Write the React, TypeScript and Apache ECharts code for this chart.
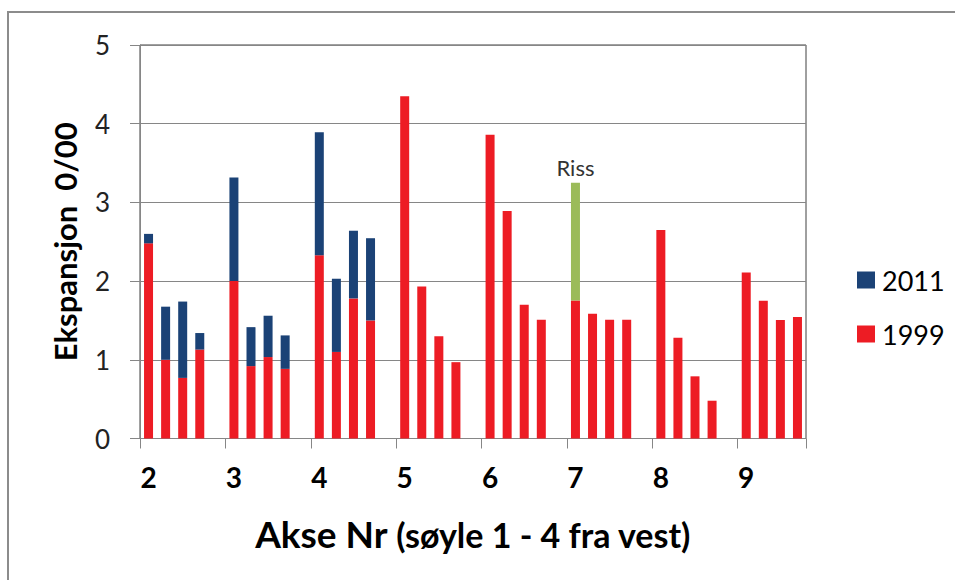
import React, { useEffect, useRef } from "react";
import * as echarts from "echarts";

// Axis numbers (x tick labels) – each axis has 4 columns (søyle 1-4 fra vest)
const axisNumbers = ["2", "3", "4", "5", "6", "7", "8", "9"];
const columnsPerAxis = 4;

// Expansion 1999 (0/00), 4 columns per axis
const expansion1999 = [
  2.48, 1.0, 0.77, 1.13,
  2.0, 0.92, 1.035, 0.885,
  2.33, 1.1, 1.78, 1.5,
  4.35, 1.93, 1.3, 0.97,
  3.86, 2.89, 1.7, 1.51,
  1.755, 1.585, 1.51, 1.51,
  2.65, 1.28, 0.79, 0.48,
  2.11, 1.75, 1.505, 1.545,
];

// Expansion 2011 (total height of the stacked bar), null where not measured
const expansion2011Total = [
  2.6, 1.675, 1.74, 1.34,
  3.315, 1.415, 1.56, 1.31,
  3.89, 2.03, 2.64, 2.545,
  null, null, null, null,
  null, null, null, null,
  null, null, null, null,
  null, null, null, null,
  null, null, null, null,
];

// Column with crack ("Riss"), total height
const rissTotal = [
  null, null, null, null,
  null, null, null, null,
  null, null, null, null,
  null, null, null, null,
  null, null, null, null,
  3.25, null, null, null,
  null, null, null, null,
  null, null, null, null,
];

const FONT = "Lato";

function withGaps<T>(values: T[], gap: T): T[] {
  const out: T[] = [];
  axisNumbers.forEach((_, g) => {
    for (let s = 0; s < columnsPerAxis; s++) out.push(values[g * columnsPerAxis + s]);
    if (g < axisNumbers.length - 1) out.push(gap);
  });
  return out;
}

const categoryNames: string[] = (() => {
  const names: string[] = [];
  axisNumbers.forEach((a) => {
    for (let s = 1; s <= columnsPerAxis; s++) names.push(`${a}-${s}`);
  });
  return withGaps(names, "");
})().map((n, i) => (n === "" ? `gap-${i}` : n));

const base1999 = withGaps<number | null>(expansion1999, null);
const delta2011 = withGaps<number | null>(
  expansion2011Total.map((t, i) => (t == null ? null : +(t - expansion1999[i]).toFixed(3))),
  null
);
const deltaRiss = withGaps<number | null>(
  rissTotal.map((t, i) => (t == null ? null : +(t - expansion1999[i]).toFixed(3))),
  null
);

const slotsPerAxis = columnsPerAxis + 1;

export default function App() {
  const ref = useRef<HTMLDivElement>(null);

  useEffect(() => {
    if (!ref.current) return;
    const chart = echarts.init(ref.current, null, { renderer: "svg" });
    const gray = "#868686";
    chart.setOption({
      animation: false,
      backgroundColor: "#ffffff",
      textStyle: { fontFamily: FONT },
      graphic: [
        {
          type: "rect",
          silent: true,
          shape: { x: 8, y: 12, width: 1200, height: 1200 },
          style: { fill: "none", stroke: "#8c8c8c", lineWidth: 2 },
        },
      ],
      legend: {
        orient: "vertical",
        left: 852,
        top: 260,
        data: ["2011", "1999"],
        icon: "rect",
        itemWidth: 18,
        itemHeight: 17,
        itemGap: 24,
        textStyle: { fontFamily: FONT, fontSize: 27, color: "#000", lineHeight: 30, padding: [0, 0, 0, 2] },
      },
      grid: {
        left: 140,
        top: 45,
        width: 666,
        height: 393.5,
        show: true,
        borderColor: "#404040",
        borderWidth: 1,
        backgroundColor: "transparent",
      },
      xAxis: {
        type: "category",
        data: categoryNames,
        boundaryGap: true,
        axisLine: { lineStyle: { color: gray, width: 1 } },
        axisTick: {
          show: true,
          length: 10,
          interval: (i: number) => i % slotsPerAxis === 0,
          lineStyle: { color: gray },
        },
        axisLabel: {
          interval: 0,
          margin: 24,
          fontFamily: FONT,
          fontSize: 28,
          fontWeight: "bold",
          color: "#000",
          formatter: (_v: string, i: number) =>
            i % slotsPerAxis === 0 ? axisNumbers[i / slotsPerAxis] : "",
        },
        splitLine: { show: false },
        name: "{a|Akse Nr}{b| (søyle 1 - 4 fra vest)}",
        nameLocation: "middle",
        nameGap: 69,
        nameTextStyle: {
          rich: {
            a: { fontFamily: FONT, fontSize: 37, fontWeight: "bold", color: "#000", verticalAlign: "bottom", lineHeight: 44 },
            b: { fontFamily: FONT, fontSize: 34, fontWeight: "bold", color: "#000", verticalAlign: "bottom", lineHeight: 43 },
          },
        },
      },
      yAxis: {
        type: "value",
        min: 0,
        max: 5,
        interval: 1,
        axisLine: { show: true, lineStyle: { color: gray } },
        axisTick: { show: true, length: 10, lineStyle: { color: gray } },
        splitLine: { lineStyle: { color: gray, width: 1 } },
        axisLabel: { margin: 30, fontFamily: FONT, fontSize: 26, color: "#222" },
        name: "Ekspansjon  0/00",
        nameLocation: "middle",
        nameGap: 60,
        nameTextStyle: { fontFamily: FONT, fontSize: 31, fontWeight: "bold", color: "#000" },
      },
      series: [
        {
          name: "1999",
          type: "bar",
          stack: "exp",
          barWidth: 9,
          data: base1999,
          itemStyle: { color: "#ED1C24" },
        },
        {
          name: "2011",
          type: "bar",
          stack: "exp",
          barWidth: 9,
          data: delta2011,
          itemStyle: { color: "#1B4276" },
        },
        {
          name: "Riss",
          type: "bar",
          stack: "exp",
          barWidth: 9,
          data: deltaRiss,
          itemStyle: { color: "#9BBB59" },
          label: {
            show: true,
            position: "top",
            distance: 4,
            formatter: "Riss",
            fontFamily: FONT,
            fontSize: 22,
            color: "#333",
          },
        },
      ],
    });
    return () => chart.dispose();
  }, []);

  return (
    <div
      ref={ref}
      style={{ position: "absolute", left: 0, top: 0, width: 955, height: 580 }}
    />
  );
}
